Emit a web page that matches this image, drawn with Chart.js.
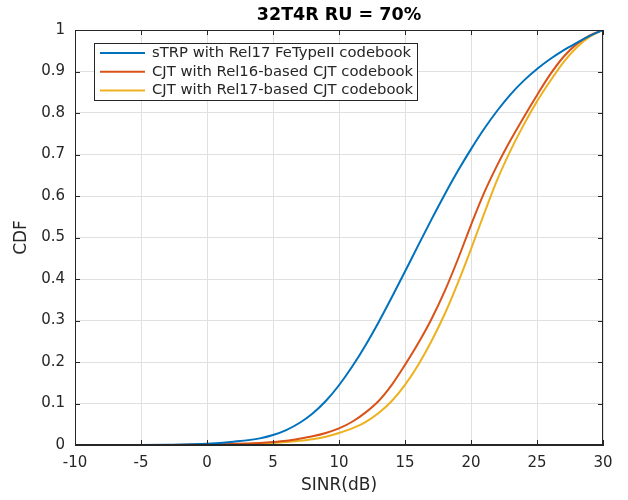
<!DOCTYPE html>
<html>
<head>
<meta charset="utf-8">
<script src="https://cdn.jsdelivr.net/npm/chart.js@4.4.0/dist/chart.umd.min.js"></script>
<style>
html, body { margin: 0; padding: 0; background: #ffffff; }
</style>
</head>
<body>
<canvas id="graph1" width="628" height="500"></canvas>
<script>
// valeurs
var sinr = [-10, -5, -3, 0, 2, 4, 5, 6, 7, 8, 9, 10, 11, 12, 13, 14, 15, 16, 17, 18, 19, 20, 21, 22, 23, 24, 25, 26, 27, 28, 29, 30]
var cdfSTRP = [0, 0, 0.0005, 0.003, 0.008, 0.016, 0.024, 0.036, 0.053, 0.076, 0.106, 0.144, 0.189, 0.24, 0.296, 0.356, 0.418, 0.481, 0.543, 0.603, 0.66, 0.713, 0.762, 0.806, 0.845, 0.878, 0.906, 0.93, 0.951, 0.969, 0.986, 1]
var cdfRel16 = [0, 0, 0, 0.002, 0.003, 0.005, 0.007, 0.01, 0.015, 0.021, 0.029, 0.04, 0.056, 0.078, 0.106, 0.145, 0.193, 0.245, 0.303, 0.37, 0.447, 0.53, 0.608, 0.675, 0.735, 0.79, 0.843, 0.893, 0.935, 0.966, 0.987, 1]
var cdfRel17 = [0, 0, 0, 0.001, 0.002, 0.004, 0.005, 0.007, 0.01, 0.014, 0.02, 0.029, 0.04, 0.055, 0.077, 0.106, 0.145, 0.193, 0.25, 0.315, 0.39, 0.472, 0.558, 0.64, 0.71, 0.772, 0.828, 0.877, 0.922, 0.958, 0.984, 1]
var seriesNames = ['sTRP with Rel17 FeTypeII codebook', 'CJT with Rel16-based CJT codebook', 'CJT with Rel17-based CJT codebook']
var seriesColors = ['#0072BD', '#D95319', '#EDB120']
var xTicks = [-10, -5, 0, 5, 10, 15, 20, 25, 30]
var yTicks = [0, 0.1, 0.2, 0.3, 0.4, 0.5, 0.6, 0.7, 0.8, 0.9, 1]

var txt = '#262626'
var fontName = '"DejaVu Sans", sans-serif'

function pts(arr) {
    return sinr.map(function (x, i) { return { x: x, y: arr[i] } })
}

var series = [cdfSTRP, cdfRel16, cdfRel17]
var datasets = series.map(function (arr, i) {
    return {
        label: seriesNames[i],
        data: pts(arr),
        borderColor: seriesColors[i],
        backgroundColor: seriesColors[i],
        borderWidth: 2,
        pointRadius: 0,
        cubicInterpolationMode: 'monotone',
        fill: false
    }
})

/* titres, légende, graduations intérieures */
var decor = {
    id: 'decor',
    afterDraw: function (chart) {
        var c = chart.ctx
        var a = chart.chartArea
        var sx = chart.scales.x, sy = chart.scales.y
        c.save()
        // cadre complet
        c.strokeStyle = txt
        c.lineWidth = 1
        c.strokeRect(a.left + 0.5, a.top + 0.5, a.right - a.left - 1, a.bottom - a.top - 1)
        // graduations vers l'intérieur
        c.beginPath()
        xTicks.forEach(function (v) {
            var p = Math.round(sx.getPixelForValue(v)) + 0.5
            c.moveTo(p, a.bottom); c.lineTo(p, a.bottom - 5)
            c.moveTo(p, a.top); c.lineTo(p, a.top + 5)
        })
        yTicks.forEach(function (v) {
            var p = Math.round(sy.getPixelForValue(v)) + 0.5
            c.moveTo(a.left, p); c.lineTo(a.left + 5, p)
            c.moveTo(a.right, p); c.lineTo(a.right - 5, p)
        })
        c.stroke()
        // titre
        c.fillStyle = '#000000'
        c.font = 'bold 17.5px ' + fontName
        c.textAlign = 'center'
        c.textBaseline = 'middle'
        c.fillText('32T4R RU = 70%', (a.left + a.right) / 2, 15)
        // titres des axes
        c.fillStyle = txt
        c.font = '17px ' + fontName
        c.fillText('SINR(dB)', (a.left + a.right) / 2, 486)
        c.save()
        c.translate(22, (a.top + a.bottom) / 2)
        c.rotate(-Math.PI / 2)
        c.fillText('CDF', 0, 0)
        c.restore()
        // légende
        var lx = 94, ly = 43, lw = 323, lh = 57
        c.fillStyle = '#ffffff'
        c.fillRect(lx, ly, lw, lh)
        c.strokeStyle = txt
        c.strokeRect(lx + 0.5, ly + 0.5, lw, lh)
        c.font = '14.8px ' + fontName
        c.textAlign = 'left'
        chart.data.datasets.forEach(function (ds, i) {
            var yy = 53 + i * 18.7
            c.strokeStyle = ds.borderColor
            c.lineWidth = 2
            c.beginPath()
            c.moveTo(100, yy); c.lineTo(145, yy)
            c.stroke()
            c.fillStyle = txt
            c.fillText(ds.label, 152, yy)
        })
        c.restore()
    }
}

var ctx = document.getElementById('graph1').getContext('2d')
var graph1 = new Chart(ctx, {
    type: 'line',
    data: { datasets: datasets },
    options: {
        responsive: false,
        animation: false,
        layout: { padding: { top: 30, right: 25, left: 0, bottom: 0 } },
        plugins: { legend: { display: false }, title: { display: false }, tooltip: { enabled: false } },
        scales: {
            x: {
                type: 'linear', min: -10, max: 30,
                afterBuildTicks: function (s) { s.ticks = xTicks.map(function (v) { return { value: v } }) },
                ticks: { color: txt, font: { size: 15, family: fontName }, padding: 9, maxRotation: 0 },
                grid: { color: '#e0e0e0', drawTicks: false },
                border: { color: txt },
                afterFit: function (s) { s.height = 55 }
            },
            y: {
                min: 0, max: 1,
                afterBuildTicks: function (s) { s.ticks = yTicks.map(function (v) { return { value: v } }) },
                ticks: { color: txt, font: { size: 15, family: fontName }, padding: 10,
                    callback: function (v) { return String(Math.round(v * 10) / 10) } },
                grid: { color: '#e0e0e0', drawTicks: false },
                border: { color: txt },
                afterFit: function (s) { s.width = 75 }
            }
        }
    },
    plugins: [decor]
})
</script>
</body>
</html>
